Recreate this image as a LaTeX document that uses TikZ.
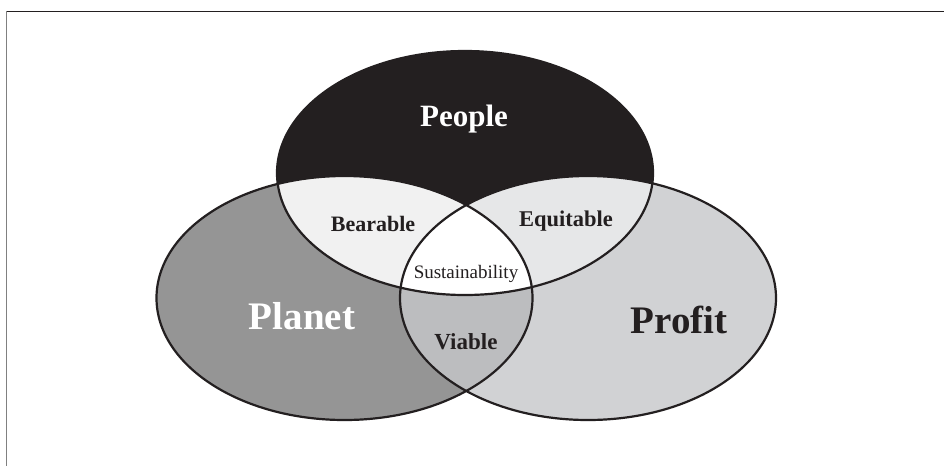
\documentclass[tikz,border=0pt]{standalone}
\usepackage{fontspec}
\setmainfont{Liberation Serif}
\definecolor{peoplec}{HTML}{231F20}
\definecolor{planetc}{HTML}{959595}
\definecolor{profitc}{HTML}{D1D2D4}
\definecolor{bearc}{HTML}{F1F1F1}
\definecolor{equic}{HTML}{E6E7E8}
\definecolor{viac}{HTML}{BCBDBF}
\definecolor{inkc}{HTML}{231F20}
\begin{document}
\begin{tikzpicture}[x=1pt,y=-1pt,
  er/.style={x radius=188pt,y radius=122pt},
  ol/.style={draw=inkc,line width=2.2pt},
  big/.style={font=\bfseries\fontsize{#1}{#1}\selectfont},
  mid/.style={font=\bfseries\fontsize{#1}{#1}\selectfont,text=inkc},
  sml/.style={font=\fontsize{19}{19}\selectfont,text=inkc}]
\useasboundingbox (0,0) rectangle (944,466);
\fill[white] (0,0) rectangle (944,466);
\coordinate (cPe) at (465,173);
\coordinate (cPl) at (344.5,298);
\coordinate (cPr) at (588,298);
% frame
\draw[line width=1pt,inkc] (6,11.5) -- (944,11.5);
\draw[line width=1.6pt,gray] (6.5,11) -- (6.5,466);
% base fills
\fill[planetc] (cPl) ellipse[er];
\fill[profitc] (cPr) ellipse[er];
\fill[peoplec] (cPe) ellipse[er];
% pairwise intersections
\begin{scope}
  \clip (cPe) ellipse[er];
  \fill[bearc] (cPl) ellipse[er];
  \fill[equic] (cPr) ellipse[er];
\end{scope}
\begin{scope}
  \clip (cPl) ellipse[er];
  \fill[viac] (cPr) ellipse[er];
  \clip (cPe) ellipse[er];
  \fill[white] (cPr) ellipse[er];
\end{scope}
% outlines
\draw[ol] (cPl) ellipse[er];
\draw[ol] (cPr) ellipse[er];
\draw[ol] (cPe) ellipse[er];
% labels
\node[big=31,text=white] (people) at (464,119) {People};
\node[big=39,text=white] (planet) at (302,316) {Planet};
\node[big=39,text=inkc] (profit) at (679,320) {Profit};
\node[mid=22] (bearable) at (373,224) {Bearable};
\node[mid=22.5] (equitable) at (566,221) {Equitable};
\node[sml] (sustain) at (466,274) {Sustainability};
\node[mid=23] (viable) at (466,342) {Viable};
\end{tikzpicture}
\end{document}
